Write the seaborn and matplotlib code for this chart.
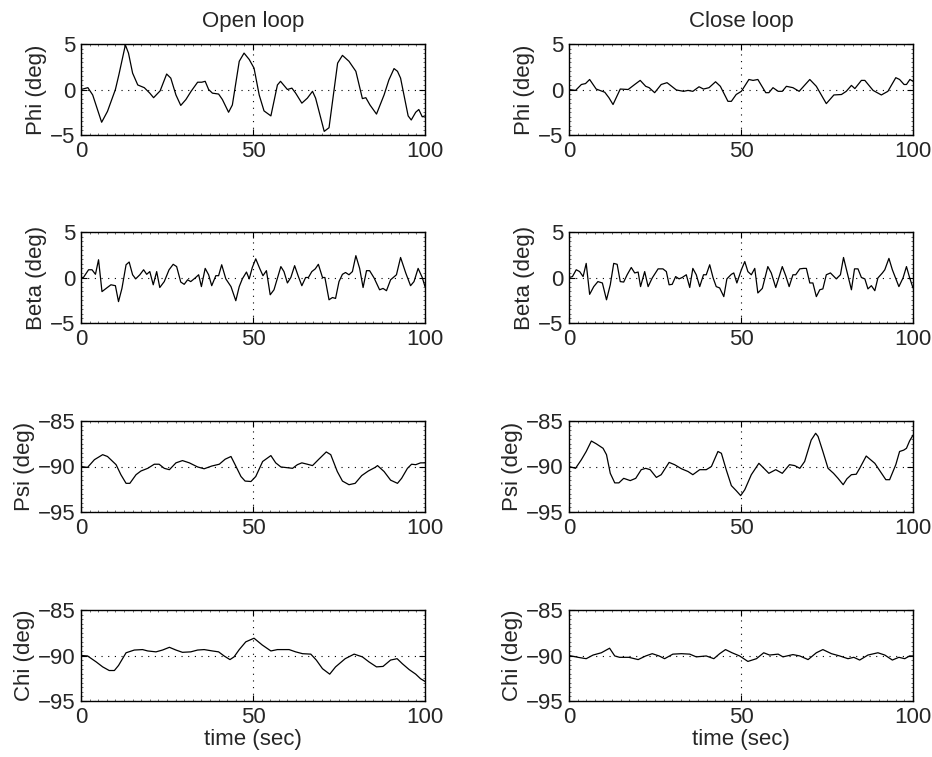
import matplotlib
matplotlib.use("Agg")
import matplotlib.pyplot as plt
from matplotlib.ticker import MultipleLocator
import seaborn as sns
import pandas as pd

# ---- roll angle Phi ----
phi_open_t = [0, 2, 3.4, 6, 7.7, 10, 11, 12.9, 13.8, 15, 16.5, 18.4, 20, 21.1, 23, 24.9, 26.1,
              27.6, 29, 30.5, 32, 33.9, 35.1, 36.1, 37.1, 38.2, 40, 41.1, 42.9, 44, 46, 47.4,
              48.9, 50.3, 51.8, 53.2, 55.2, 57.1, 58, 60, 61.3, 62.4, 64.2, 65.8, 67.3, 68.2,
              70.7, 72.1, 74.6, 76, 77.9, 79.9, 81.8, 82.8, 84, 85.9, 88.1, 89.5, 91, 92, 92.9,
              95.1, 96, 97.3, 98.2, 99.2, 100]
phi_open = [0, 0.2, -0.6, -3.6, -2.4, 0, 1.6, 4.9, 4.0, 1.8, 0.5, 0.2, -0.4, -0.9, -0.15, 1.7, 1.25,
            -0.6, -1.75, -1.1, -0.2, 0.8, 0.8, 0.9, 0, -0.4, -0.5, -1.1, -2.5, -1.7, 3.1, 4.0,
            3.3, 2.35, -0.6, -2.35, -2.9, 0.5, 0.9, 0, 0.15, -0.4, -1.5, -0.95, -0.2, -0.95,
            -4.6, -4.2, 2.9, 3.75, 3.1, 2.0, -1.0, -0.9, -1.7, -2.7, -0.6, 1.05, 2.3, 2.0, 1.25,
            -2.9, -3.35, -2.5, -2.2, -3.0, -2.9]

phi_close_t = [0, 1.9, 3.6, 4.8, 6, 7.9, 10.4, 11.6, 12.8, 14.9, 17.2, 19.1, 20.7, 22.3, 23.3,
               24.9, 26.8, 28.5, 31.2, 33.3, 34.6, 36, 37.8, 39.1, 40.7, 42.6, 44, 46.2, 47.2,
               48.6, 50.1, 52.3, 53.5, 54.9, 57.2, 58.1, 59.3, 60.8, 62, 63.2, 65.1, 66.9, 70,
               71.9, 73.8, 74.8, 77, 79.2, 80.6, 82.1, 83.1, 85, 86, 88.4, 90.8, 92.7, 95, 96.1,
               97.4, 98.1, 99.1, 100]
phi_close = [0, -0.1, 0.55, 0.65, 1.1, 0.05, -0.3, -0.9, -1.65, 0.05, 0, 0.55, 1.0, 0.35, 0.2,
             -0.35, 0.55, 0.75, -0.05, -0.2, -0.1, -0.2, 0.3, 0.05, 0.2, 0.85, 0.35, -1.3, -1.3,
             -0.55, -0.2, 1.1, 1.0, 1.1, -0.35, -0.35, 0.2, -0.2, -0.2, 0.35, 0.2, -0.2, 1.1,
             0.35, -0.9, -1.55, -0.6, -0.55, -0.2, 0.45, 0.1, 1.0, 1.0, -0.1, -0.6, -0.2, 1.3, 1.1,
             0.55, 0.55, 1.1, 0.9]

# ---- sideslip Beta ----
beta_open_t = [0, 0.7, 2.2, 3.2, 4.2, 5.1, 6.1, 7.3, 8.7, 10, 10.9, 11.9, 13.1, 14, 15, 15.9,
               17.1, 18.2, 19.1, 20, 21, 22, 22.9, 24.2, 25.6, 26.8, 27.8, 29, 30, 31, 31.9,
               33.2, 34.2, 35, 36.1, 37.1, 38, 39.2, 40, 40.9, 42.1, 43.6, 45, 46, 46.9, 48.1,
               48.9, 49.8, 50.8, 52, 52.9, 53.9, 55, 56.1, 58.1, 59, 60, 61, 62.1, 63.2, 64.2,
               65.3, 66.1, 67.1, 68.1, 69, 70.2, 70.9, 72.1, 73.1, 74, 75, 76, 76.9, 77.9, 78.9,
               79.9, 81, 82, 83, 83.9, 85.2, 86.8, 87.8, 88.8, 90, 91.7, 92.9, 94.4, 95.8, 96.8,
               98, 99.2, 100]
beta_open = [0, 0, 0.85, 0.85, 0.35, 1.95, -1.55, -1.2, -0.8, -0.9, -2.65, -1.2, 1.4, 1.7, 0.3,
             -0.15, 0.3, 0.85, 0.35, 0.65, -0.8, 0.65, -1.1, -0.45, 0.85, 1.45, 1.2, -0.5, -0.75,
             -0.25, -0.45, -0.05, 0.3, -1.0, 1.0, 0.3, -0.9, 0.2, 0.2, 1.4, -0.15, -1.0, -2.55,
             -1.0, -0.15, 0.6, -0.15, 1.1, 2.05, 0.95, 0.2, 0.75, -1.9, -1.35, 1.2, 0.65, -0.6,
             0, 1.3, 0.1, -0.9, 0, 0, 0.65, 0.95, 1.45, 0, 0, -2.45, -2.2, -2.3, -0.45, 0.35,
             0.55, 0.3, 0.65, 2.4, 1.0, -1.1, 0.75, 0.75, -0.05, -1.35, -1.2, -1.45, -0.25, 0.3,
             2.2, 0.5, -0.9, -0.45, 1.0, 0, -1.0]

beta_close_t = [0, 1, 2.1, 3.1, 4.1, 5, 6, 7.2, 8.4, 9.7, 10.9, 12, 13, 14, 14.9, 15.9, 16.9,
                18.1, 19.1, 20.1, 20.8, 22, 23, 24.2, 25.9, 27.3, 28.3, 29.1, 30, 31, 32, 32.9,
                34.1, 35.1, 36, 37, 38, 39.1, 39.9, 40.9, 41.9, 42.8, 43.8, 45, 45.9, 47.2, 47.9,
                48.8, 50.1, 51.1, 52, 53, 54, 54.9, 56.2, 57.8, 58.8, 60.1, 62, 63, 64, 65.1,
                65.9, 67.1, 68.2, 69, 70, 70.9, 71.9, 72.9, 73.8, 74.8, 76, 77.7, 78.9, 79.8,
                80.8, 82.1, 83, 84, 85, 86, 86.9, 87.9, 88.9, 89.8, 91.1, 91.8, 93, 94, 95.9,
                97.1, 98.1, 99, 100]
beta_close = [0, 0.1, 0.85, 0.65, 0.1, 1.55, -1.85, -1.0, -0.45, -0.6, -2.45, -0.8, 1.55, 1.45,
              -0.45, -0.5, 0.3, 1.1, 0.5, 0.6, -1.0, 0.65, -1.0, -0.05, 0.95, 0.95, 0.65, -0.8,
              -0.75, 0.1, -0.15, 0, 0.3, -1.1, 1.0, 0.3, -1.0, 0.3, 0.3, 1.4, -0.05, -1.0, -1.15,
              -2.1, -0.15, 0.35, 0.5, -0.6, 0.85, 1.75, 0.65, 0.3, 1.0, -1.7, -1.2, 1.2, 0.5,
              -1.1, 1.2, 0.2, -1.0, 0.3, 0.3, 0.95, 1.0, 1.0, -0.6, -0.6, -2.1, -1.35, -1.25,
              0.3, 0.5, -0.15, 0.3, 2.2, 0.65, -1.35, 0.95, 0.95, 0, -0.15, -1.25, -0.9, -1.45,
              -0.05, 0.5, 0.85, 2.1, 0.85, -1.0, -0.05, 1.2, 0, -1.15]

# ---- heading Psi ----
psi_open_t = [0, 1.9, 3.9, 6.3, 7.7, 10.2, 11.6, 13.1, 14.2, 16, 17.4, 19.4, 21.3, 22.7, 24.2,
              25.7, 27.6, 29.5, 31.5, 33.9, 35.8, 38, 40.2, 41.9, 43.6, 44.8, 46.5, 47.7, 49.4,
              50.8, 52.8, 55.2, 56.6, 58.1, 61.5, 62.9, 64.2, 65.8, 67.3, 69, 71.3, 72.6, 74.5,
              76, 77.9, 79.7, 81.6, 83.5, 85.5, 86.2, 88.1, 90, 92, 93.2, 94.9, 96.1, 97.3, 98.7,
              100]
psi_open = [-90, -90.1, -89.25, -88.7, -88.9, -89.8, -90.9, -91.85, -91.85, -90.9, -90.5, -90.2,
            -89.75, -89.75, -90.2, -90.35, -89.6, -89.35, -89.6, -90.05, -90.25, -89.95, -89.75,
            -89.2, -88.9, -89.8, -91.1, -91.6, -91.65, -91.1, -89.45, -88.8, -89.6, -90.05,
            -90.2, -89.8, -89.6, -89.75, -89.9, -89.25, -88.4, -88.7, -90.55, -91.6, -92.0,
            -91.85, -91.0, -90.5, -90.1, -89.9, -90.55, -91.5, -91.85, -91.3, -90.2, -89.75,
            -89.8, -89.6, -89.6]

psi_close_t = [0, 1.9, 3.6, 5, 6.5, 7.9, 9.9, 10.9, 12, 13.3, 14.5, 15.9, 17.8, 19.4, 21, 22.3,
               23.6, 25.4, 26.8, 29.1, 30.7, 32.7, 34.6, 36, 38, 39.9, 41.4, 43.3, 44.3, 45.7,
               47.2, 48.6, 49.9, 51.1, 53, 55.2, 56.4, 58.1, 60.1, 62, 64.1, 65.6, 67.1, 68.5,
               70.4, 71.7, 72.4, 73.8, 75.3, 76.9, 78.2, 79.7, 80.8, 82.1, 83.5, 84.5, 86.4,
               88.9, 90.5, 92.1, 93.2, 95, 96.1, 97.3, 98.1, 99, 100]
psi_close = [-90, -90.2, -89.25, -88.35, -87.2, -87.5, -88.0, -88.7, -90.75, -91.8, -91.8,
             -91.3, -91.55, -91.3, -90.35, -90.2, -90.35, -91.2, -90.9, -89.55, -89.8, -90.25,
             -90.55, -90.9, -90.35, -90.35, -90, -88.35, -88.55, -90.35, -92.1, -92.65, -93.2,
             -92.55, -90.9, -89.65, -90.1, -90.75, -90.35, -90.75, -89.8, -89.9, -90.2, -89.45,
             -87.1, -86.35, -86.7, -88.35, -90.2, -90.75, -91.3, -92.0, -91.35, -90.9, -90.85,
             -90.2, -88.85, -89.65, -90.55, -91.45, -91.45, -89.8, -88.35, -88.2, -88.0, -87.2,
             -86.55]

# ---- course Chi ----
chi_open_t = [0, 1.9, 4.4, 6.3, 8.2, 9.7, 10.9, 13.1, 15.5, 17.9, 19.4, 21.8, 23.7, 25.7, 27.6,
              29.5, 31.9, 33.9, 35.8, 38.2, 40, 41.6, 43.3, 44.5, 46, 47.9, 50.3, 52.7, 55.2,
              57.1, 60.5, 62.4, 64.4, 66.8, 68.4, 70.2, 72.3, 74, 76.8, 79.4, 81.8, 83.7, 85.9,
              87.8, 90, 91.9, 93.4, 95.4, 97.3, 98.7, 100]
chi_open = [-90, -90.05, -90.7, -91.25, -91.65, -91.65, -91.1, -89.7, -89.4, -89.35, -89.5,
            -89.6, -89.4, -89.1, -89.4, -89.65, -89.6, -89.4, -89.35, -89.5, -89.6, -90.05,
            -90.45, -90.15, -89.35, -88.5, -88.1, -88.85, -89.5, -89.35, -89.35, -89.6, -89.8,
            -89.85, -90.5, -91.45, -92.05, -91.25, -90.35, -89.85, -90.15, -90.7, -91.25,
            -91.2, -90.5, -90.35, -90.9, -91.55, -92.05, -92.55, -92.85]

chi_close_t = [0, 2.6, 5, 7, 9.4, 11.8, 13.3, 14.7, 17.4, 20.1, 22.3, 24.2, 26.2, 27.8, 30.2,
               32.7, 35.1, 37, 39.9, 42.1, 43.8, 45.5, 47.4, 49.6, 52, 54.5, 56.6, 58.3, 60.8,
               62.2, 65.1, 67.1, 69.5, 71.9, 73.8, 76.3, 78.7, 81.1, 82.8, 84.5, 86.9, 89.8,
               91.8, 94, 95.9, 97.6, 99, 100]
chi_close = [-90, -90.2, -90.35, -89.95, -89.7, -89.2, -90.05, -90.2, -90.2, -90.45, -90.05,
             -89.8, -90.05, -90.35, -89.85, -89.8, -89.85, -90.15, -90.05, -90.35, -89.8,
             -89.35, -89.7, -90.05, -90.65, -90.35, -89.7, -89.95, -89.85, -90.15, -89.9,
             -90.05, -90.45, -89.7, -89.35, -89.8, -90.05, -90.35, -90.2, -90.5, -89.95, -89.7,
             -89.95, -90.5, -90.2, -90.35, -90.05, -90.05]

column_titles = ["Open loop", "Close loop"]
row_labels = ["Phi (deg)", "Beta (deg)", "Psi (deg)", "Chi (deg)"]
row_limits = [(-5, 5), (-5, 5), (-95, -85), (-95, -85)]
x_ticks = [0, 50, 100]

series = [
    [(phi_open_t, phi_open), (phi_close_t, phi_close)],
    [(beta_open_t, beta_open), (beta_close_t, beta_close)],
    [(psi_open_t, psi_open), (psi_close_t, psi_close)],
    [(chi_open_t, chi_open), (chi_close_t, chi_close)],
]

sns.set_style("white")
plt.rcParams["font.family"] = ["Liberation Sans", "DejaVu Sans"]
plt.rcParams["axes.unicode_minus"] = True

W, H = 932, 757
fig = plt.figure(figsize=(W / 100, H / 100), dpi=100)

col_left = [81, 569]
ax_w = 344
row_top = [44, 232, 421, 610]
ax_h = 91
fs = 16

for r in range(4):
    for c in range(2):
        ax = fig.add_axes([col_left[c] / W, 1 - (row_top[r] + ax_h) / H, ax_w / W, ax_h / H])
        t, v = series[r][c]
        df = pd.DataFrame({"t": t, "v": v})
        sns.lineplot(data=df, x="t", y="v", ax=ax, color="black", linewidth=0.9,
                     estimator=None, sort=False)
        lo, hi = row_limits[r]
        ax.set_xlim(0, 100)
        ax.set_ylim(lo, hi)
        ax.set_xticks(x_ticks)
        ax.set_yticks([lo, (lo + hi) / 2, hi])
        ax.xaxis.set_minor_locator(MultipleLocator(2.5))
        ax.yaxis.set_minor_locator(MultipleLocator(0.5))
        ax.tick_params(which="both", direction="in", top=True, right=True,
                       bottom=True, left=True, labelsize=fs, pad=4, width=0.8, color="black")
        ax.tick_params(which="major", length=4)
        ax.tick_params(which="minor", length=1.2, width=0.4)
        ax.grid(True, which="major", linestyle=(0, (1, 5)), color="black", linewidth=0.8)
        for sp in ax.spines.values():
            sp.set_visible(True)
            sp.set_color("black")
            sp.set_linewidth(1.0)
        ax.set_ylabel(row_labels[r], fontsize=fs, labelpad=2)
        if r == 3:
            ax.set_xlabel("time (sec)", fontsize=fs, labelpad=1)
        else:
            ax.set_xlabel("")
        if r == 0:
            ax.set_title(column_titles[c], fontsize=fs, pad=12)

fig.savefig("out.png", dpi=100, facecolor="white")
